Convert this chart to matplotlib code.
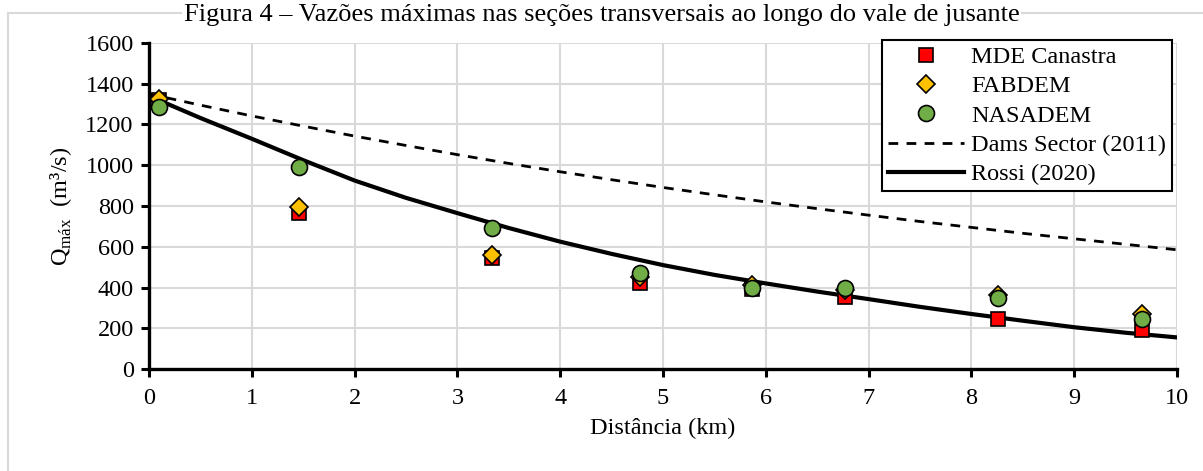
import matplotlib.pyplot as plt
from matplotlib.patches import Rectangle

plt.rcParams['font.family'] = ['Liberation Serif', 'DejaVu Serif']

# cross-section distances (km)
dist = [0.10, 1.46, 3.34, 4.78, 5.87, 6.77, 8.26, 9.66]

# peak discharges (m3/s)
mde_canastra = [1320, 765, 545, 420, 395, 355, 245, 190]
fabdem = [1325, 795, 560, 450, 410, 390, 365, 270]
nasadem = [1285, 990, 690, 470, 400, 400, 350, 245]

# reference curves read at every 0.5 km
curve_x = [0, 0.5, 1, 1.5, 2, 2.5, 3, 3.5, 4, 4.5, 5, 5.5, 6, 6.5, 7, 7.5, 8, 8.5, 9, 9.5, 10]
dams_sector = [1350, 1295, 1242, 1192, 1143, 1097, 1052, 1009, 968, 929, 891,
               855, 820, 787, 755, 724, 695, 666, 639, 612, 585]
rossi = [1340, 1232, 1130, 1025, 925, 840, 765, 692, 625, 565, 510,
         462, 420, 380, 343, 305, 270, 237, 205, 178, 155]

FS = 17.5
W, H = 1203, 471
fig = plt.figure(figsize=(W / 100, H / 100), dpi=100)
ax = fig.add_axes([149 / W, 1 - 369 / H, (1177 - 149) / W, (369 - 43) / H])

# chart border and caption
fig.patches.append(Rectangle((8 / W, -0.1), 1.2, 1.1 - 13 / H, transform=fig.transFigure,
                             fill=False, edgecolor="#d9d9d9", linewidth=1.5, zorder=0))
fig.text(0.5, 1 - 21 / H, "Figura 4 – Vazões máximas nas seções transversais ao longo do vale de jusante",
         ha="center", va="baseline", fontsize=19,
         bbox=dict(facecolor="white", edgecolor="none", pad=1))

ax.plot(curve_x, dams_sector, color="black", linestyle=(0, (3.5, 3)), linewidth=2, label="Dams Sector (2011)", zorder=2)
ax.plot(curve_x, rossi, color="black", linewidth=3, label="Rossi (2020)", zorder=2)

mk = dict(linestyle="none", markeredgecolor="black", markeredgewidth=1.2, zorder=3)
ax.plot(dist, mde_canastra, marker="s", markersize=10.5, markerfacecolor="#ff0000", label="MDE Canastra", **mk)
ax.plot(dist, fabdem, marker="D", markersize=9, markerfacecolor="#ffc000", label="FABDEM", **mk)
ax.plot(dist, nasadem, marker="o", markersize=11.5, markerfacecolor="#70ad47", label="NASADEM", **mk)

ax.set_xlim(0, 10)
ax.set_ylim(0, 1600)
ax.set_xticks(range(0, 11))
ax.set_yticks(range(0, 1601, 200))
ax.grid(True, color="#d9d9d9", linewidth=1.5)
ax.set_axisbelow(True)
for s in ["top", "right"]:
    ax.spines[s].set_visible(False)
for s in ["left", "bottom"]:
    ax.spines[s].set_linewidth(2.4)
ax.tick_params(axis="both", direction="out", length=6, width=2.2, labelsize=FS, pad=5)
ax.tick_params(axis="x", pad=8)

ax.set_xlabel("Distância (km)", fontsize=FS, labelpad=6)
ax.set_ylabel(r"Q$_{\mathregular{máx}}$  (m³/s)", fontsize=FS, labelpad=8)

handles, labels = ax.get_legend_handles_labels()
order = [2, 3, 4, 0, 1]
leg = ax.legend([handles[i] for i in order], [labels[i] for i in order],
                loc="upper right", bbox_to_anchor=(1172 / W, 1 - 40 / H),
                bbox_transform=fig.transFigure, borderaxespad=0, fontsize=FS,
                frameon=True, fancybox=False, edgecolor="black", framealpha=1,
                handlelength=3.1, handletextpad=0.3, labelspacing=0.3, borderpad=0.25)
leg.get_frame().set_linewidth(1.5)

fig.savefig("out.png", dpi=100)
